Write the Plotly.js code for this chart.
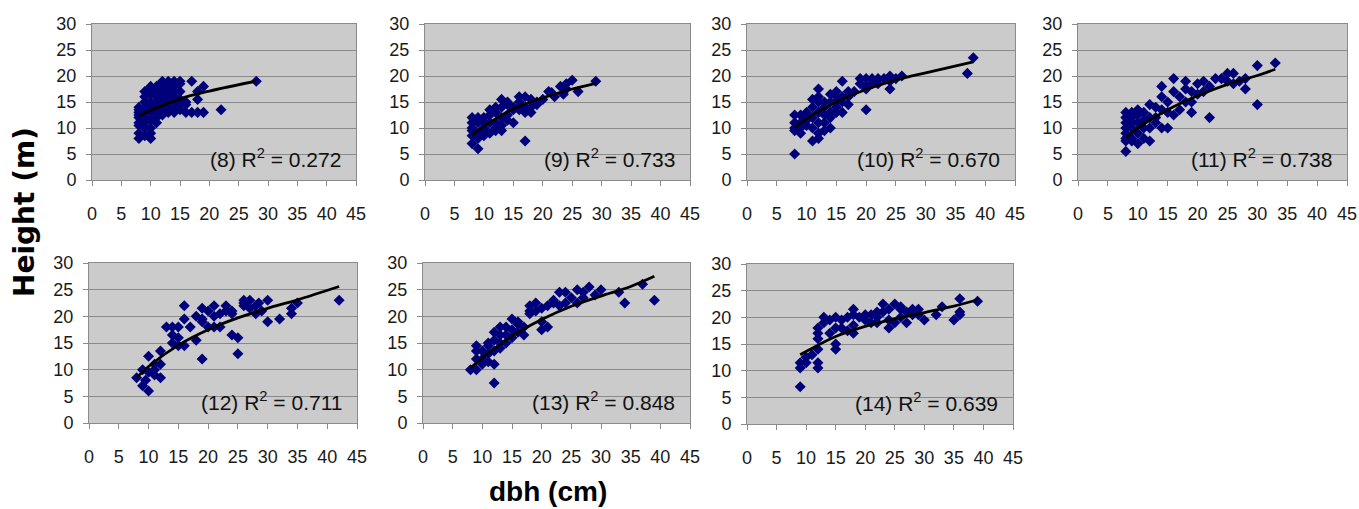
<!DOCTYPE html>
<html><head><meta charset="utf-8">
<script src="https://cdn.plot.ly/plotly-3.0.1.min.js"></script>
<style>html,body{margin:0;padding:0;background:#fff}#chart{width:1359px;height:509px}</style>
</head><body><div id="chart"></div>
<script>
// ---- data: [dbh, height] pairs ----
const plotLabels = ['(8)','(9)','(10)','(11)','(12)','(13)','(14)'];
const r2Values = ['0.272','0.733','0.670','0.738','0.711','0.848','0.639'];
const xTicks = [0,5,10,15,20,25,30,35,40,45];
const yTicks = [0,5,10,15,20,25,30];

const pts8 = [[8,8],[8,9],[8,10.5],[8,11],[8,12],[8,12.5],[8,13],[8,13.5],[8,14],
 [9,8.5],[9,10],[9,11],[9,12],[9,13],[9,14],[9,15],[9,16],[9,17],
 [10,8],[10,9],[10,10],[10,11.5],[10,13],[10,14],[10,15],[10,16.5],[10,17.5],[10,18],
 [11,11],[11,12],[11,13],[11,14],[11,15],[11,16],[11,17],[11,18],
 [12,12.5],[12,13.5],[12,14.5],[12,15.5],[12,16.5],[12,17.5],[12,18.5],[12,19],
 [13,13],[13,14],[13,15],[13,16],[13,17],[13,18],[13,19],
 [14,13],[14,14],[14,15],[14,16],[14,17],[14,18],[14,19],
 [15,13.5],[15,14.5],[15,15.5],[15,17],[15,18.5],[15,19],
 [16,13],[16,14.5],[16,15],[17,13],[17,19],[18,13],[18,15.5],[18,17],[19,13],[19,18],[22,13.5],[28,19]];
const pts9 = [[9,6],[8,7],[17,7.5],[15,11],[29,19],[26,17],[25,19.2],[24,18.5],[23,18],[24,17.5],[23.5,16.5],[22,16],[21,17],[21.5,16.8],
 [19,15],[18,13],[18,15.5],[17,16],[17,14],[16,16],[16,13.5],[15,14],[14,15],[13,15.5],[13,14],[12,14],[12,13],[11,13.5],[11,11],
 [10,10],[10,12],[9,9],[9,11],[9,12],[8,10],[8,11],[8,12],[8,8.5],[10,9.5],[11,9],[12,9.5],[12,11],[13,10.5],[13,12],[14,12.5],
 [14,14.5],[15,13.5],[16,15],[17,13],[18,14],[19,14.5],[20,15.5],[10,11],[11,12.5],[12,10],[13,9.5],[9,8],[8,9.5],[10,8.5],[16,14],[14,11.5]];
const pts10 = [[8,5],[38,23.5],[37,20.5],[24,17.5],[20,13.5],[26,20],[24,20],[23,19.5],[22,19.5],[21,19.5],[20,19.5],[19,19.5],[20,18],
 [19,18.5],[20,17.5],[21,18.5],[22,18.5],[24,19],[25,19.5],[16,19],[17,17],[17,16],[17,14.5],[16,13],[16,16],[15,16],[15,17],[15,14],
 [14,15],[14,13],[14,10],[13,9.5],[13,12.5],[13,14],[12,17.5],[12,15],[12,13],[12,11],[12,9],[11,7.5],[11,10],[11,12],[11,14],
 [10,10.5],[10,12],[10,13],[9,9],[9,11],[9,12.5],[8,10],[8,11],[8,12.5],[8,9.5],[13,15],[14,16.5],[15,15],[16,15],[18,17],[12,16],
 [11,15.5],[13,11],[14,12],[15,13],[9,10],[10,11.5],[12,8]];
const pts11 = [[8,5.5],[33,22.5],[30,22],[30,14.5],[28,17.5],[28,19.5],[27,19],[26,20.5],[25,20.5],[26,18.5],[25,19],[24,19.5],[23,19.5],
 [22,12],[21,19],[20,18.5],[20,16.5],[19,13],[19,15],[18,19],[18,17.5],[17,16],[17,13.5],[16,19.5],[16,12.5],[16,17],[15,15],[15,10],
 [15,13],[14,18],[14,16],[14,10],[13,11],[13,14],[12,14.5],[12,7.5],[12,12],[11,13],[11,8],[11,10],[10,13.5],[10,9],[10,11],[10,7],
 [9,12],[9,8],[9,10],[9,7.5],[8,13],[8,11],[8,9],[8,10],[8,12],[8,7.5],[9,11],[10,12.5],[11,11.5],[12,10],[13,12],[14,13.5],[18,15],
 [19,17],[21,17],[22,18],[9,13],[8,8]];
const pts12 = [[42,23],[35,22.5],[34,21.5],[34,20.5],[32,19.5],[30,23],[30,19],[29,21],[28,20.5],[28,22],[27,23],[26,23],[26,22],[27,21.5],
 [28.5,22.5],[25,13],[25,16],[24,16.5],[24,20.5],[23,22],[24,21],[22,20.5],[22,18],[21,22],[21,18],[21,20],[20,18],[20,21],[19,21.5],
 [19,12],[19,19],[18,15.5],[18,20],[17,18],[16,22],[16,19.5],[16,14.5],[15,18],[15,16],[15,14.5],[14,18],[14,15],[14,16.5],[13,18],
 [12,13.5],[12,11],[12,8.5],[11,11],[11,9],[10,12.5],[10,6],[10,9.5],[9,10],[9,7],[8,8.5],[9.5,8],[11,10],[23,21],[19,19.5],[26,22.5]];
const pts13 = [[8,10],[12,7.5],[12,11],[39,23],[37,26],[34,22.5],[33,24.5],[30,25],[29,24],[28,25.5],[27,23.5],[27,24.5],[26,25],[26,22.5],
 [25,23.5],[24,24.5],[24,22.5],[23,24.5],[23,22],[22,23],[21,22],[21,18],[20,17.5],[20,19],[20,21.5],[19,22.5],[19,21],[18,22],[18,20.5],
 [17,16.5],[17,18],[16,17],[16,19],[15,19.5],[15,17.5],[15,16],[14,18],[14,16.5],[14,15],[13,15],[13,16.5],[13,14],[12,17],[12,15.5],
 [12,13.5],[11,14.5],[11,13],[11,11.5],[10,12],[10,13.5],[9,14.5],[9,13.5],[9,10],[9,12],[10,11],[11,15],[13,18],[16,18.5],[18,21],[22,22.5]];
const pts14 = [[9,7],[9,10.5],[9,11.5],[10,11.5],[10,12.5],[12,10.5],[12,11.5],[12,14],[12,16],[12,17],[12,18],[13,20],[14,19.5],[15,14],
 [15,15],[15,18],[15,20],[16,19.5],[17,17.5],[17,20],[18,17],[18,18.5],[18,21.5],[18,20.5],[19,20],[20,20.5],[21,20.5],[21,19],[22,20],
 [22,19],[23,22.5],[23,21],[24,18],[24,21.5],[24,19.5],[25,22.5],[25,19],[26,21.5],[26,20],[27,19],[27,21],[28,21.5],[28,20.5],[29,20.5],
 [29,21.5],[30,19.5],[32,20.5],[33,22],[35,19.5],[36,23.5],[36,21],[36,20.5],[39,23],[14,17],[16,18],[20,19.5],[22,21],[26,22],[13,19],[11,13]];

// fitted trend lines
const trend8 = [[8,12.3],[10,13.4],[15,15.6],[20,17.1],[28,19.0]];
const trend9 = [[8,8.7],[10,10.3],[15,13.7],[20,15.8],[25,17.5],[29,18.6]];
const trend10 = [[8,10],[10,11.8],[15,15],[20,17.4],[25,19.2],[30,20.6],[38,22.7]];
const trend11 = [[8,8.2],[10,10],[15,13.5],[20,16.2],[25,18.4],[30,20.1],[33,21.3]];
const trend12 = [[8,8.5],[10,10.6],[15,14.6],[20,17.5],[25,19.7],[30,21.5],[35,23.1],[42,25.6]];
const trend13 = [[8,10.3],[10,12.2],[15,16.3],[20,19.4],[25,21.9],[30,23.8],[35,25.6],[39,27.5]];
const trend14 = [[9,13],[10,13.6],[15,16.4],[20,18.3],[25,19.7],[30,20.9],[35,22.1],[39,23.3]];

const allPts = [pts8,pts9,pts10,pts11,pts12,pts13,pts14];
const allTrend = [trend8,trend9,trend10,trend11,trend12,trend13,trend14];

// ---- layout geometry (pixels) ----
const W = 1359, H = 509;
const boxes = [
  [92,356,24,180],[425,690,24,180],[747,1015,24,180],[1078,1347,24,180],
  [89,357,263,423],[423,690,263,423],[747,1013,264,424]
];

const traces = [];
const layout = {
  width: W, height: H,
  margin: {l:0,r:0,t:0,b:0},
  paper_bgcolor: '#ffffff',
  plot_bgcolor: '#cbcbcb',
  showlegend: false,
  font: {family: 'Liberation Sans, Arial, sans-serif', color: '#1a1a1a'},
  annotations: [],
};

boxes.forEach((b, i) => {
  const n = i === 0 ? '' : String(i + 1);
  const xa = 'x' + n, ya = 'y' + n;
  const pts = allPts[i], tr = allTrend[i];
  traces.push({
    type: 'scatter', mode: 'markers', xaxis: xa, yaxis: ya,
    x: pts.map(p => p[0]), y: pts.map(p => p[1]),
    marker: {symbol: 'diamond', size: 8.5, color: '#00007a', line: {width: 0}},
    hoverinfo: 'skip'
  });
  traces.push({
    type: 'scatter', mode: 'lines', xaxis: xa, yaxis: ya,
    x: tr.map(p => p[0]), y: tr.map(p => p[1]),
    line: {color: '#000000', width: 2.8, shape: 'spline'},
    hoverinfo: 'skip'
  });
  const axCommon = {
    showline: true, mirror: true, linecolor: '#8a8a8a', linewidth: 1,
    ticks: 'outside', ticklen: 5, tickcolor: '#8a8a8a', tickwidth: 1,
    tickfont: {size: 18, family: 'Liberation Sans, Arial, sans-serif', color: '#1a1a1a'},
    zeroline: false, fixedrange: true
  };
  layout['xaxis' + n] = Object.assign({}, axCommon, {
    domain: [b[0] / W, b[1] / W], anchor: ya,
    range: [0, 45], tickmode: 'array', tickvals: xTicks, ticktext: xTicks.map(String),
    showgrid: false, ticklabelstandoff: 12
  });
  layout['yaxis' + n] = Object.assign({}, axCommon, {
    domain: [1 - b[3] / H, 1 - b[2] / H], anchor: xa,
    range: [0, 30], tickmode: 'array', tickvals: yTicks, ticktext: yTicks.map(String),
    showgrid: true, gridcolor: '#8a8a8a', gridwidth: 1, ticklabelstandoff: 6
  });
  layout.annotations.push({
    xref: xa + ' domain', yref: ya + ' domain', x: 0.95, y: 0.14,
    xanchor: 'right', yanchor: 'middle', showarrow: false,
    text: plotLabels[i] + ' R<sup>2</sup> = ' + r2Values[i],
    font: {size: 21, family: 'Liberation Sans, Arial, sans-serif', color: '#111'}
  });
});

layout.annotations.push({
  xref: 'paper', yref: 'paper', x: 24 / W, y: 1 - 212 / H,
  xanchor: 'center', yanchor: 'middle', showarrow: false, textangle: -90,
  text: '<b>Height (m)</b>',
  font: {size: 28, family: 'DejaVu Sans, sans-serif', color: '#000'}
});
layout.annotations.push({
  xref: 'paper', yref: 'paper', x: 548 / W, y: 1 - 491 / H,
  xanchor: 'center', yanchor: 'middle', showarrow: false,
  text: '<b>dbh (cm)</b>',
  font: {size: 28, family: 'Liberation Sans, Arial, sans-serif', color: '#000'}
});

Plotly.newPlot('chart', traces, layout, {staticPlot: true, displayModeBar: false});
</script></body></html>
